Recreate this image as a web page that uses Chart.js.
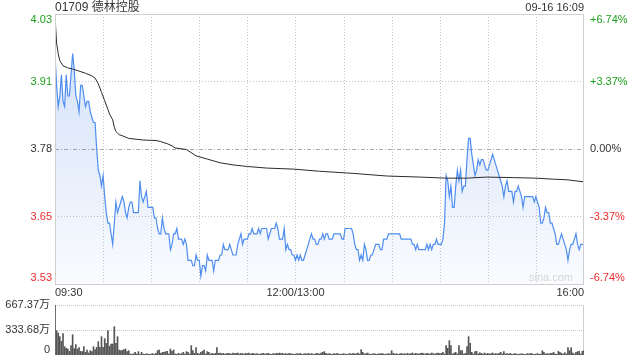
<!DOCTYPE html>
<html lang="zh">

<head>
    <meta charset="UTF-8">
    <title>01709 德林控股</title>
    <script src="https://cdn.jsdelivr.net/npm/chart.js"></script>
    <style>
        body { margin: 0; background: #fff; }
        #wrap { position: relative; width: 640px; height: 360px; }
        #wrap canvas { position: absolute; left: 0; top: 0; }
    </style>
</head>

<body>
    <div id="wrap">
        <canvas id="priceChart" width="640" height="360"></canvas>
        <canvas id="volChart" width="640" height="360"></canvas>
    </div>

    <script>
        // ---- data ----
        const stockName = '01709 德林控股';
        const stamp = '09-16 16:09';
        const prevClose = 3.78;
        const pctSteps = [-6.74, -3.37, 0, 3.37, 6.74];
        const priceTickLabels = ['3.53', '3.65', '3.78', '3.91', '4.03'];
        const pctTickLabels = ['-6.74%', '-3.37%', '0.00%', '+3.37%', '+6.74%'];
        const timeLabels = ['09:30', '12:00/13:00', '16:00'];
        const timeLabelMinutes = [0, 150, 330];
        const totalMinutes = 330;

        // last price, one per minute (09:30 .. 16:00)
        const prices = [
            3.96, 3.90, 3.86, 3.88, 3.92, 3.87, 3.86, 3.92, 3.88, 3.88,
            3.92, 3.96, 3.93, 3.88, 3.87, 3.85, 3.90, 3.90, 3.88, 3.86,
            3.87, 3.87, 3.85, 3.84, 3.83, 3.83, 3.78, 3.74, 3.73, 3.71,
            3.73, 3.69, 3.66, 3.64, 3.64, 3.62, 3.60, 3.64, 3.68, 3.66,
            3.67, 3.68, 3.69, 3.68, 3.66, 3.65, 3.67, 3.68, 3.68, 3.66,
            3.66, 3.66, 3.66, 3.72, 3.69, 3.68, 3.69, 3.70, 3.67, 3.67,
            3.67, 3.67, 3.65, 3.65, 3.63, 3.62, 3.62, 3.65, 3.63, 3.62,
            3.62, 3.62, 3.59, 3.60, 3.62, 3.62, 3.63, 3.61, 3.61, 3.61,
            3.60, 3.61, 3.60, 3.57, 3.57, 3.57, 3.56, 3.56, 3.58, 3.57,
            3.57, 3.54, 3.56, 3.56, 3.55, 3.58, 3.57, 3.57, 3.57, 3.55,
            3.57, 3.57, 3.57, 3.58, 3.58, 3.60, 3.59, 3.59, 3.59, 3.60,
            3.59, 3.58, 3.58, 3.58, 3.60, 3.61, 3.62, 3.60, 3.61, 3.61,
            3.61, 3.62, 3.62, 3.63, 3.62, 3.62, 3.62, 3.63, 3.62, 3.63,
            3.63, 3.63, 3.63, 3.61, 3.62, 3.63, 3.63, 3.63, 3.64, 3.63,
            3.61, 3.61, 3.61, 3.63, 3.59, 3.60, 3.59, 3.59, 3.58, 3.58,
            3.57, 3.58, 3.57, 3.58, 3.57, 3.57, 3.58, 3.59, 3.60, 3.61,
            3.62, 3.61, 3.61, 3.60, 3.60, 3.61, 3.61, 3.62, 3.61, 3.62,
            3.62, 3.61, 3.61, 3.61, 3.62, 3.62, 3.62, 3.62, 3.62, 3.61,
            3.61, 3.63, 3.63, 3.63, 3.63, 3.63, 3.62, 3.60, 3.59, 3.59,
            3.57, 3.58, 3.57, 3.60, 3.59, 3.57, 3.57, 3.58, 3.58, 3.59,
            3.60, 3.60, 3.60, 3.59, 3.59, 3.61, 3.61, 3.61, 3.62, 3.62,
            3.62, 3.62, 3.62, 3.62, 3.62, 3.62, 3.61, 3.61, 3.61, 3.61,
            3.61, 3.61, 3.61, 3.60, 3.60, 3.59, 3.60, 3.59, 3.59, 3.59,
            3.59, 3.59, 3.60, 3.59, 3.60, 3.59, 3.60, 3.60, 3.61, 3.60,
            3.60, 3.60, 3.61, 3.64, 3.73, 3.72, 3.69, 3.71, 3.67, 3.67,
            3.71, 3.74, 3.72, 3.74, 3.70, 3.71, 3.71, 3.76, 3.80, 3.80,
            3.77, 3.75, 3.73, 3.74, 3.76, 3.75, 3.76, 3.76, 3.75, 3.74,
            3.74, 3.75, 3.76, 3.77, 3.76, 3.75, 3.74, 3.73, 3.72, 3.71,
            3.69, 3.71, 3.72, 3.70, 3.70, 3.70, 3.68, 3.70, 3.70, 3.71,
            3.70, 3.69, 3.67, 3.69, 3.69, 3.69, 3.69, 3.69, 3.69, 3.68,
            3.69, 3.68, 3.67, 3.64, 3.64, 3.65, 3.67, 3.66, 3.66, 3.64,
            3.64, 3.63, 3.62, 3.60, 3.60, 3.61, 3.62, 3.61, 3.60, 3.59,
            3.57, 3.59, 3.60, 3.60, 3.61, 3.62, 3.60, 3.59, 3.60, 3.60, 3.60
        ];

        // average price line, sampled where it could be read
        const avgMinutes = [0, 1, 2, 3, 5, 8, 11, 15, 19, 23, 25, 27, 29, 31, 33, 34, 36, 37, 38, 40,
            42, 46, 55, 63, 66, 68, 70, 73, 75, 82, 88, 95, 103, 111, 120, 132, 149, 165, 186, 207,
            228, 244, 257, 269, 286, 300, 311, 319, 330];
        const avgPrices = [4.030, 3.980, 3.960, 3.947, 3.937, 3.933, 3.931, 3.927, 3.923, 3.918,
            3.914, 3.903, 3.887, 3.871, 3.855, 3.846, 3.835, 3.821, 3.813, 3.807,
            3.805, 3.800, 3.797, 3.796, 3.794, 3.792, 3.790, 3.786, 3.782, 3.779,
            3.767, 3.761, 3.754, 3.750, 3.747, 3.744, 3.742, 3.738, 3.734, 3.729,
            3.727, 3.725, 3.725, 3.727, 3.726, 3.725, 3.723, 3.722, 3.718];

        // volume per minute, in 万
        const volumes = [
            667.37, 325, 294, 245, 182, 285, 111, 89, 80, 49,
            125, 271, 85, 138, 80, 98, 49, 45, 111, 36,
            67, 27, 58, 45, 111, 71, 102, 178, 102, 245,
            102, 218, 156, 325, 116, 147, 147, 378, 156, 245,
            67, 58, 62, 71, 80, 45, 58, 13, 9, 18,
            36, 13, 45, 9, 36, 13, 9, 18, 13, 9,
            13, 18, 9, 22, 58, 67, 22, 36, 36, 45,
            49, 13, 80, 49, 67, 13, 9, 22, 13, 18,
            36, 13, 45, 36, 13, 125, 58, 22, 98, 22,
            13, 36, 49, 67, 13, 45, 36, 13, 22, 13,
            22, 98, 22, 27, 18, 22, 13, 18, 22, 18,
            13, 27, 18, 22, 27, 13, 22, 18, 13, 22,
            18, 27, 13, 22, 18, 13, 18, 9, 13, 18,
            22, 13, 18, 22, 13, 9, 18, 13, 22, 18,
            27, 18, 22, 13, 18, 13, 22, 18, 13, 9,
            13, 18, 13, 22, 9, 13, 18, 13, 22, 13,
            18, 13, 9, 22, 18, 13, 27, 36, 45, 22,
            13, 18, 13, 9, 18, 13, 22, 13, 9, 13,
            18, 13, 9, 13, 18, 13, 22, 13, 18, 27,
            13, 71, 36, 13, 18, 27, 13, 9, 13, 18,
            13, 9, 18, 13, 22, 13, 9, 13, 18, 13,
            58, 22, 13, 18, 9, 13, 22, 13, 18, 13,
            22, 13, 18, 27, 13, 22, 18, 13, 22, 27,
            18, 13, 22, 18, 13, 27, 18, 13, 22, 27,
            18, 22, 36, 13, 125, 89, 191, 125, 13, 27,
            36, 13, 125, 58, 58, 13, 22, 111, 245, 156,
            36, 13, 45, 49, 13, 31, 22, 13, 27, 13,
            22, 13, 18, 27, 13, 18, 13, 22, 36, 13,
            45, 13, 18, 13, 22, 9, 13, 18, 13, 9,
            13, 18, 13, 9, 13, 18, 13, 22, 13, 9,
            13, 18, 13, 9, 58, 36, 13, 18, 13, 22,
            22, 36, 13, 9, 49, 36, 22, 13, 31, 13,
            98, 58, 98, 27, 13, 36, 45, 49, 13, 49, 58
        ];
        const volTicks = [0, 333.68, 667.37];
        const volTickLabels = ['0', '333.68万', '667.37万'];

        const FONT = 'Arial, "Liberation Sans", "Noto Sans CJK SC", sans-serif';
        const GREEN = '#1c9f1c';
        const RED = '#f02c2c';

        function hline(ctx, x1, x2, y) {
            ctx.beginPath();
            ctx.moveTo(x1, y);
            ctx.lineTo(x2, y);
            ctx.stroke();
        }
        function vline(ctx, x, y1, y2) {
            ctx.beginPath();
            ctx.moveTo(x, y1);
            ctx.lineTo(x, y2);
            ctx.stroke();
        }

        // grid, frame and all the text around the price chart
        const priceFrame = {
            id: 'priceFrame',
            beforeDatasetsDraw(chart) {
                const { ctx, chartArea: a, scales: { x, y } } = chart;
                ctx.save();
                ctx.lineWidth = 1;
                ctx.strokeStyle = '#c4c4c4';
                ctx.setLineDash([1, 2]);
                for (let m = 30; m < totalMinutes; m += 30) {
                    vline(ctx, Math.round(x.getPixelForValue(m)) + 0.5, a.top, a.bottom);
                }
                pctSteps.forEach((p, i) => {
                    if (i === 0 || i === pctSteps.length - 1) return;
                    const py = Math.round(y.getPixelForValue(prevClose * (1 + p / 100))) + 0.5;
                    if (p === 0) {
                        ctx.strokeStyle = '#a8a8a8';
                        ctx.setLineDash([4, 2, 1, 2]);
                    } else {
                        ctx.strokeStyle = '#c4c4c4';
                        ctx.setLineDash([1, 2]);
                    }
                    hline(ctx, a.left, a.right, py);
                });
                ctx.restore();
            },
            afterDraw(chart) {
                const { ctx, chartArea: a, scales: { x, y } } = chart;
                ctx.save();
                ctx.strokeStyle = '#cfcfcf';
                ctx.lineWidth = 1;
                ctx.strokeRect(a.left + 0.5, a.top + 0.5, a.right - a.left - 1, a.bottom - a.top);

                ctx.font = '11px ' + FONT;
                ctx.textBaseline = 'middle';
                pctSteps.forEach((p, i) => {
                    let py = y.getPixelForValue(prevClose * (1 + p / 100));
                    py = Math.min(Math.max(py, a.top + 6), a.bottom - 6);
                    ctx.fillStyle = p > 0 ? GREEN : (p < 0 ? RED : '#333');
                    ctx.textAlign = 'right';
                    ctx.fillText(priceTickLabels[i], a.left - 3, py);
                    ctx.textAlign = 'left';
                    ctx.fillText(pctTickLabels[i], a.right + 6, py);
                });

                ctx.fillStyle = '#333';
                timeLabels.forEach((t, i) => {
                    const px = x.getPixelForValue(timeLabelMinutes[i]);
                    ctx.textAlign = i === 0 ? 'left' : (i === timeLabels.length - 1 ? 'right' : 'center');
                    ctx.fillText(t, px, a.bottom + 9);
                });

                ctx.textAlign = 'right';
                ctx.fillText(stamp, a.right, 8);
                ctx.font = '12px ' + FONT;
                ctx.textAlign = 'left';
                ctx.fillText(stockName, a.left, 8);

                // watermark
                ctx.font = '11px ' + FONT;
                ctx.fillStyle = '#d6d6d6';
                ctx.textAlign = 'right';
                ctx.fillText('sina.com', a.right - 11, a.bottom - 6);
                ctx.restore();
            }
        };

        const volFrame = {
            id: 'volFrame',
            beforeDatasetsDraw(chart) {
                const { ctx, chartArea: a, scales: { y } } = chart;
                ctx.save();
                ctx.lineWidth = 1;
                ctx.strokeStyle = '#c4c4c4';
                ctx.setLineDash([1, 1]);
                volTicks.forEach(v => {
                    if (v === 0) return;
                    hline(ctx, a.left, a.right, Math.round(y.getPixelForValue(v)) + 0.5);
                });
                ctx.setLineDash([]);
                ctx.strokeStyle = '#cfcfcf';
                vline(ctx, a.right - 0.5, a.top, a.bottom);
                ctx.restore();
            },
            afterDraw(chart) {
                const { ctx, chartArea: a, scales: { y } } = chart;
                ctx.save();
                ctx.font = '11px ' + FONT;
                ctx.textBaseline = 'middle';
                ctx.textAlign = 'right';
                ctx.fillStyle = '#333';
                volTicks.forEach((v, i) => {
                    const py = Math.min(y.getPixelForValue(v), a.bottom - 5);
                    ctx.fillText(volTickLabels[i], a.left - 5, py);
                });
                ctx.restore();
            }
        };

        const lo = prevClose * (1 + pctSteps[0] / 100);
        const hi = prevClose * (1 + pctSteps[pctSteps.length - 1] / 100);

        new Chart(document.getElementById('priceChart'), {
            type: 'line',
            data: {
                datasets: [{
                    label: '均价',
                    data: avgMinutes.map((m, i) => ({ x: m, y: avgPrices[i] })),
                    borderColor: '#2b2b2b',
                    borderWidth: 1,
                    pointRadius: 0,
                    fill: false,
                    order: 0
                }, {
                    label: '价格',
                    data: prices.map((p, i) => ({ x: i, y: p })),
                    borderColor: '#4f8ef0',
                    borderWidth: 1.2,
                    pointRadius: 0,
                    fill: 'start',
                    backgroundColor: (c) => {
                        const a = c.chart.chartArea;
                        if (!a) return 'rgba(0,0,0,0)';
                        const g = c.chart.ctx.createLinearGradient(0, a.top, 0, a.bottom);
                        g.addColorStop(0, 'rgba(70,130,230,0.26)');
                        g.addColorStop(1, 'rgba(70,130,230,0.03)');
                        return g;
                    },
                    order: 1
                }]
            },
            options: {
                responsive: false,
                animation: false,
                layout: { padding: { left: 55, right: 56, top: 14, bottom: 76 } },
                plugins: { legend: { display: false }, tooltip: { enabled: false } },
                scales: {
                    x: { type: 'linear', min: 0, max: totalMinutes, display: false },
                    y: { min: lo, max: hi, display: false }
                }
            },
            plugins: [priceFrame]
        });

        new Chart(document.getElementById('volChart'), {
            type: 'bar',
            data: {
                datasets: [{
                    label: '成交量',
                    data: volumes.map((v, i) => ({ x: i, y: v })),
                    backgroundColor: '#555',
                    barThickness: 1
                }]
            },
            options: {
                responsive: false,
                animation: false,
                layout: { padding: { left: 55, right: 56, top: 305, bottom: 5 } },
                plugins: { legend: { display: false }, tooltip: { enabled: false } },
                scales: {
                    x: { type: 'linear', min: 0, max: totalMinutes, offset: false, display: false },
                    y: { min: 0, max: volTicks[2], display: false }
                }
            },
            plugins: [volFrame]
        });
    </script>
</body>

</html>
